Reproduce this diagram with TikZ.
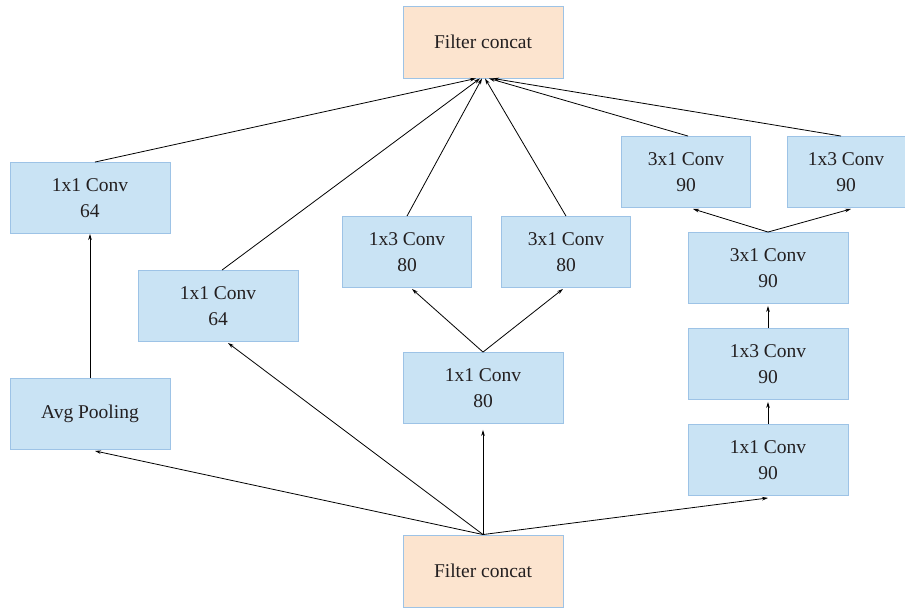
\documentclass[tikz,border=0pt]{standalone}
\usepackage{fontspec}
\setmainfont{Liberation Serif}
\usetikzlibrary{arrows.meta,calc}
\definecolor{boxfill}{HTML}{C9E3F4}
\definecolor{boxline}{HTML}{9DC3E6}
\definecolor{catfill}{HTML}{FCE4CF}
\definecolor{txt}{HTML}{231F20}
\begin{document}
\begin{tikzpicture}[x=1pt,y=-1pt,
  layer/.style={draw=boxline,line width=0.9pt,fill=boxfill,minimum width=160pt,minimum height=71pt,
    align=center,inner sep=0pt,text=txt,font=\fontsize{19.5}{26}\selectfont},
  narrow/.style={layer,minimum width=129pt},
  concat/.style={layer,fill=catfill,minimum height=72pt},
  arr/.style={-{Stealth[length=6pt,width=3.6pt]},line width=0.8pt,draw=black}]
\useasboundingbox (0,0) rectangle (905,610);
\node[concat] (top) at (483,42) {Filter concat};
\node[concat] (bot) at (483,571) {Filter concat};
\node[layer] (c64a) at (90,198) {1x1 Conv\\64};
\node[layer] (avg) at (90,414) {Avg Pooling};
\node[layer] (c64b) at (218,306) {1x1 Conv\\64};
\node[narrow] (c13a) at (407,252) {1x3 Conv\\80};
\node[narrow] (c31a) at (566,252) {3x1 Conv\\80};
\node[layer] (c80) at (483,388) {1x1 Conv\\80};
\node[narrow] (c31b) at (686,172) {3x1 Conv\\90};
\node[layer,minimum width=118pt] (c13b) at (846,172) {1x3 Conv\\90};
\node[layer] (c31c) at (768,268) {3x1 Conv\\90};
\node[layer] (c13c) at (768,364) {1x3 Conv\\90};
\node[layer] (c90) at (768,460) {1x1 Conv\\90};
% to top concat
\coordinate (t) at (top.south);
\draw[arr] ($(c64a.north)+(5,0)$) -- ($(t)+(-7,0)$);
\draw[arr] ($(c64b.north)+(4,0)$) -- ($(t)+(-3,0)$);
\draw[arr] (c13a.north) -- ($(t)+(-1,0)$);
\draw[arr] (c31a.north) -- ($(t)+(2,0)$);
\draw[arr] ($(c31b.north)+(2,0)$) -- ($(t)+(6,0)$);
\draw[arr] ($(c13b.north)+(-5,0)$) -- ($(t)+(10,0)$);
% from bottom concat
\coordinate (b) at (bot.north);
\draw[arr] (b) -- ($(avg.south)+(5,1)$);
\draw[arr] (b) -- ($(c64b.south)+(10,1)$);
\draw[arr] (b) -- ($(c80.south)+(0,6)$);
\draw[arr] (b) -- ($(c90.south)+(0,2)$);
% inner
\draw[arr] (avg.north) -- (c64a.south);
\draw[arr] (c80.north) -- ($(c13a.south)+(5,1)$);
\draw[arr] (c80.north) -- ($(c31a.south)+(-3,1)$);
\draw[arr] (c31c.north) -- ($(c31b.south)+(7,1)$);
\draw[arr] (c31c.north) -- ($(c13b.south)+(5,1)$);
\draw[arr] (c90.north) -- ($(c13c.south)+(0,2)$);
\draw[arr] (c13c.north) -- ($(c31c.south)+(0,2)$);
\end{tikzpicture}
\end{document}
